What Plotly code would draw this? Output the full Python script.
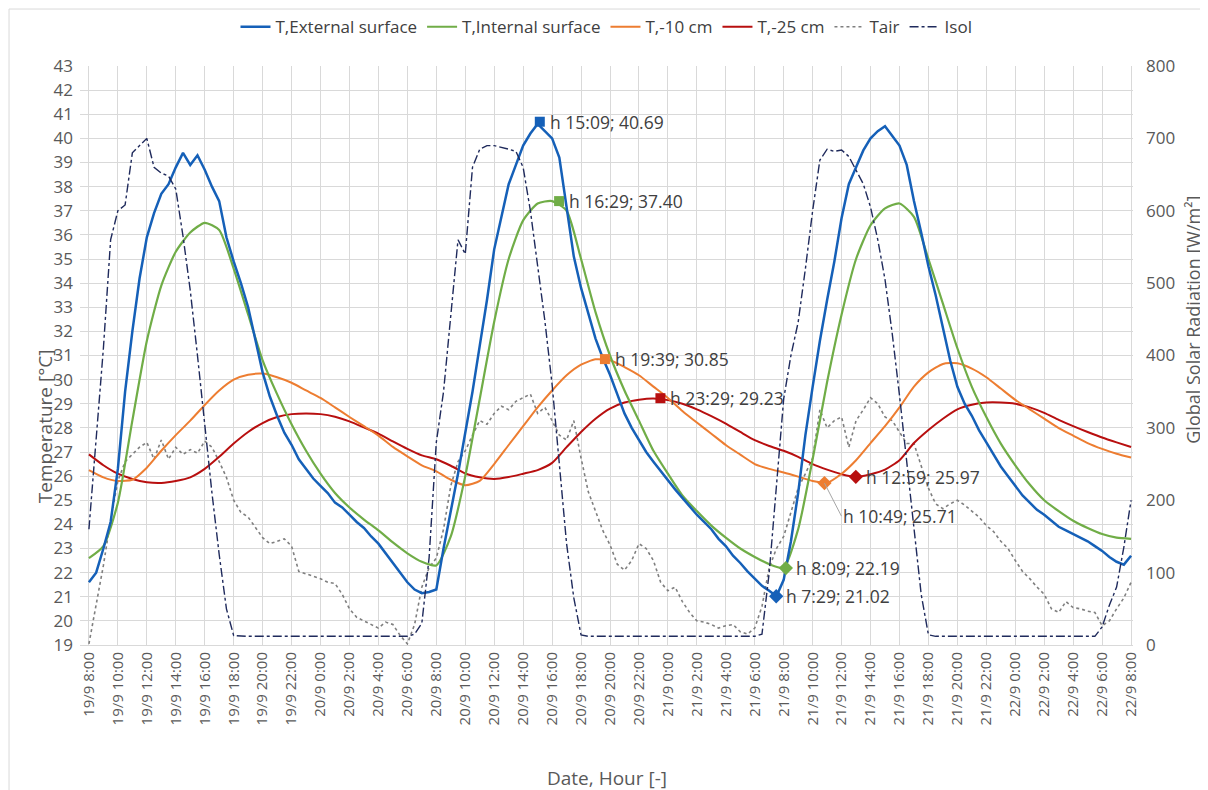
import pandas as pd
import plotly.graph_objects as go

# ---------------- data ----------------
start = "2019-09-19 08:00"
t_half = pd.date_range(start, periods=145, freq="30min")   # 19/9 8:00 .. 22/9 8:00
t_hour = pd.date_range(start, periods=73, freq="60min")

t_external = [
    21.6, 22.0, 23.0, 24.1, 26.3, 29.5, 32.0, 34.2, 35.9, 36.9, 37.7, 38.1,
    38.8, 39.4, 38.9, 39.3, 38.7, 38.0, 37.4, 35.9, 34.9, 34.0, 33.0, 31.6,
    30.3, 29.3, 28.5, 27.8, 27.3, 26.7, 26.3, 25.9, 25.6, 25.3, 24.9, 24.7,
    24.4, 24.1, 23.85, 23.5, 23.2, 22.8, 22.4, 22.0, 21.6, 21.3, 21.15, 21.2,
    21.3, 23.0, 24.5, 26.1, 27.8, 29.5, 31.4, 33.3, 35.4, 36.7, 38.1, 38.9,
    39.7, 40.2, 40.6, 40.3, 40.0, 39.2, 37.1, 35.1, 33.8, 32.7, 31.7, 30.9,
    30.2, 29.4, 28.6, 28.0, 27.5, 27.0, 26.6, 26.2, 25.8, 25.45, 25.1, 24.75,
    24.4, 24.1, 23.8, 23.4, 23.1, 22.7, 22.4, 22.05, 21.75, 21.45, 21.25, 21.02,
    21.7, 23.3, 25.3, 27.7, 29.7, 31.6, 33.3, 34.9, 36.7, 38.1, 38.8, 39.5,
    40.0, 40.3, 40.5, 40.1, 39.7, 38.9, 37.4, 36.1, 34.7, 33.5, 32.1, 30.8,
    29.7, 29.0, 28.5, 27.9, 27.4, 26.9, 26.4, 26.0, 25.6, 25.2, 24.9, 24.6,
    24.4, 24.15, 23.9, 23.75, 23.6, 23.45, 23.3, 23.1, 22.9, 22.65, 22.45, 22.33,
    22.7,
]

t_internal = [
    22.6, 23.1, 24.9, 28.3, 31.6, 33.9, 35.3, 36.1, 36.5, 36.2, 34.6, 32.7,
    30.8, 29.4, 28.15, 27.05, 26.1, 25.3, 24.7, 24.2, 23.75, 23.25, 22.8, 22.45,
    22.3, 23.5, 26.0, 29.2, 32.4, 35.0, 36.6, 37.3, 37.4, 37.0, 35.0, 32.8,
    31.0, 29.55, 28.3, 27.05, 26.1, 25.2, 24.55, 23.95, 23.45, 23.0, 22.65, 22.35,
    22.2, 23.8, 26.7, 29.9, 32.7, 35.0, 36.4, 37.1, 37.3, 36.75, 35.0, 33.15,
    31.3, 29.7, 28.45, 27.35, 26.45, 25.65, 25.0, 24.55, 24.15, 23.85, 23.6, 23.45,
    23.4,
]

t_minus10 = [
    26.25, 25.95, 25.8, 25.85, 26.35, 27.05, 27.7, 28.3, 28.95, 29.55, 30.0, 30.2,
    30.25, 30.1, 29.87, 29.55, 29.24, 28.85, 28.45, 28.07, 27.68, 27.21, 26.82, 26.45,
    26.2, 25.85, 25.62, 25.8, 26.5, 27.29, 28.07, 28.85, 29.55, 30.18, 30.62, 30.84,
    30.8, 30.52, 30.18, 29.71, 29.24, 28.7, 28.22, 27.76, 27.29, 26.89, 26.5, 26.3,
    26.15, 25.98, 25.8, 25.73, 26.1, 26.66, 27.37, 28.07, 28.85, 29.71, 30.3, 30.65,
    30.68, 30.46, 30.1, 29.63, 29.16, 28.77, 28.38, 27.99, 27.68, 27.37, 27.13, 26.93,
    26.77,
]

t_minus25 = [
    26.9, 26.45, 26.1, 25.88, 25.75, 25.72, 25.8, 25.95, 26.3, 26.8, 27.35, 27.83,
    28.2, 28.45, 28.57, 28.6, 28.57, 28.46, 28.27, 28.02, 27.76, 27.44, 27.13, 26.86,
    26.7, 26.43, 26.11, 25.95, 25.88, 25.96, 26.1, 26.25, 26.55, 27.2, 27.83, 28.38,
    28.8, 29.05, 29.17, 29.22, 29.15, 29.0, 28.77, 28.49, 28.18, 27.83, 27.49, 27.25,
    27.05, 26.8, 26.5, 26.27, 26.08, 25.97, 26.08, 26.27, 26.66, 27.37, 27.91, 28.38,
    28.77, 28.96, 29.05, 29.05, 29.0, 28.85, 28.62, 28.33, 28.07, 27.83, 27.6, 27.4,
    27.21,
]

t_air = [
    19.05, 20.6, 22.3, 24.2, 25.8, 26.6, 26.9, 27.2, 27.4, 26.7, 27.5, 26.7,
    27.2, 26.9, 27.1, 26.95, 27.45, 27.2, 26.6, 25.95, 25.0, 24.5, 24.3, 23.9,
    23.45, 23.2, 23.3, 23.4, 23.1, 22.05, 21.95, 21.85, 21.75, 21.6, 21.55, 21.1,
    20.5, 20.15, 20.0, 19.85, 19.7, 19.95, 19.85, 19.4, 19.05, 19.85, 21.4, 22.2,
    22.6, 23.8, 25.6, 26.6, 27.05, 27.7, 28.3, 28.15, 28.6, 28.9, 28.75, 29.1,
    29.25, 29.4, 28.6, 28.85, 28.3, 27.7, 27.5, 28.3, 26.75, 25.35, 24.55, 23.75,
    23.15, 22.35, 22.1, 22.5, 23.2, 23.0, 22.5, 21.6, 21.25, 21.4, 20.8, 20.35,
    20.0, 19.95, 19.85, 19.7, 19.8, 19.85, 19.55, 19.45, 19.7, 20.6, 22.2, 23.0,
    23.5, 24.5, 25.5, 26.1, 26.75, 28.75, 28.0, 28.3, 28.45, 27.2, 28.3, 28.75,
    29.25, 29.0, 28.45, 28.3, 27.85, 27.35, 27.35, 26.45, 25.5, 24.85, 24.65, 24.85,
    25.0, 24.8, 24.55, 24.3, 23.95, 23.7, 23.3, 23.0, 22.5, 22.05, 21.75, 21.4,
    21.1, 20.5, 20.35, 20.8, 20.55, 20.5, 20.4, 20.35, 19.8, 20.0, 20.5, 20.95,
    21.6,
]

isol = [
    160, 280, 410, 560, 600, 608, 680, 690, 700, 660, 652, 648,
    630, 565, 490, 400, 300, 210, 125, 50, 13, 12, 12, 12,
    12, 12, 12, 12, 12, 12, 12, 12, 12, 12, 12, 12,
    12, 12, 12, 12, 12, 12, 12, 12, 12, 15, 30, 120,
    280, 350, 460, 560, 540, 660, 685, 690, 690, 688, 685, 682,
    660, 600, 525, 448, 360, 250, 140, 65, 14, 12, 12, 12,
    12, 12, 12, 12, 12, 12, 12, 12, 12, 12, 12, 12,
    12, 12, 12, 12, 12, 12, 12, 12, 12, 15, 100, 220,
    340, 400, 446, 520, 600, 670, 685, 682, 684, 675, 655, 637,
    605, 560, 505, 430, 345, 255, 160, 70, 14, 12, 12, 12,
    12, 12, 12, 12, 12, 12, 12, 12, 12, 12, 12, 12,
    12, 12, 12, 12, 12, 12, 12, 12, 25, 55, 80, 135,
    200,
]

tick_labels = [
    "19/9 8:00", "19/9 10:00", "19/9 12:00", "19/9 14:00", "19/9 16:00", "19/9 18:00",
    "19/9 20:00", "19/9 22:00", "20/9 0:00", "20/9 2:00", "20/9 4:00", "20/9 6:00",
    "20/9 8:00", "20/9 10:00", "20/9 12:00", "20/9 14:00", "20/9 16:00", "20/9 18:00",
    "20/9 20:00", "20/9 22:00", "21/9 0:00", "21/9 2:00", "21/9 4:00", "21/9 6:00",
    "21/9 8:00", "21/9 10:00", "21/9 12:00", "21/9 14:00", "21/9 16:00", "21/9 18:00",
    "21/9 20:00", "21/9 22:00", "22/9 0:00", "22/9 2:00", "22/9 4:00", "22/9 6:00",
    "22/9 8:00",
]
tick_vals = pd.date_range(start, periods=37, freq="2h")

# highlighted extremes
mark_times = ["2019-09-20 15:09", "2019-09-20 16:29", "2019-09-20 19:39", "2019-09-20 23:29",
              "2019-09-21 07:29", "2019-09-21 08:09", "2019-09-21 10:49", "2019-09-21 12:59"]
mark_values = [40.69, 37.40, 30.85, 29.23, 21.02, 22.19, 25.71, 25.97]
mark_labels = ["h 15:09; 40.69", "h 16:29; 37.40", "h 19:39; 30.85", "h 23:29; 29.23",
               "h 7:29; 21.02", "h 8:09; 22.19", "h 10:49; 25.71", "h 12:59; 25.97"]

# ---------------- styles ----------------
C_BLUE = "#1560B8"
C_GREEN = "#70AD47"
C_ORANGE = "#ED7D31"
C_RED = "#B80F0F"
C_AIR = "#7F7F7F"
C_ISOL = "#1F2A5C"
mark_colors = [C_BLUE, C_GREEN, C_ORANGE, C_RED, C_BLUE, C_GREEN, C_ORANGE, C_RED]
mark_symbols = ["square"] * 4 + ["diamond"] * 4

FONT = "Open Sans"
TXT = "#404040"
AX = "#595959"

fig = go.Figure()
fig.add_trace(go.Scatter(x=t_half, y=isol, name="Isol", yaxis="y2", mode="lines",
                         line=dict(color=C_ISOL, width=1.4, dash="dashdot")))
fig.add_trace(go.Scatter(x=t_half, y=t_air, name="Tair", mode="lines",
                         line=dict(color=C_AIR, width=1.6, dash="dot")))
fig.add_trace(go.Scatter(x=t_hour, y=t_minus25, name="T,-25 cm", mode="lines",
                         line=dict(color=C_RED, width=2, shape="spline", smoothing=0.6)))
fig.add_trace(go.Scatter(x=t_hour, y=t_minus10, name="T,-10 cm", mode="lines",
                         line=dict(color=C_ORANGE, width=2, shape="spline", smoothing=0.6)))
fig.add_trace(go.Scatter(x=t_hour, y=t_internal, name="T,Internal surface", mode="lines",
                         line=dict(color=C_GREEN, width=2.2, shape="spline", smoothing=0.6)))
fig.add_trace(go.Scatter(x=t_half, y=t_external, name="T,External surface", mode="lines",
                         line=dict(color=C_BLUE, width=2.5)))

for tm, v, c, s in zip(mark_times, mark_values, mark_colors, mark_symbols):
    fig.add_trace(go.Scatter(x=[tm], y=[v], mode="markers", showlegend=False,
                             marker=dict(color=c, symbol=s, size=10 if s == "square" else 11)))

for tm, v, lab in zip(mark_times, mark_values, mark_labels):
    if lab.startswith("h 10:49"):
        fig.add_annotation(x=tm, y=v, text=lab, showarrow=True, arrowhead=0, arrowwidth=1,
                           arrowcolor="#A6A6A6", ax=17, ay=33, xanchor="left", yanchor="middle",
                           font=dict(family=FONT, size=17.5, color=TXT))
    else:
        fig.add_annotation(x=tm, y=v, text=lab, showarrow=False, xanchor="left", yanchor="middle",
                           xshift=8, font=dict(family=FONT, size=17.5, color=TXT))

# axis titles
fig.add_annotation(xref="paper", yref="paper", x=0.5, y=-0.229, text="Date, Hour [-]",
                   showarrow=False, xanchor="center", yanchor="middle",
                   font=dict(family=FONT, size=19, color=AX))
fig.add_annotation(xref="paper", yref="paper", x=-0.0332, y=0.378, text="Temperature [°C]",
                   showarrow=False, textangle=-90, xanchor="center", yanchor="middle",
                   font=dict(family=FONT, size=19, color=AX))
fig.add_annotation(xref="paper", yref="paper", x=1.0575, y=0.561,
                   text="Global Solar Radiation [W/m²]",
                   showarrow=False, textangle=-90, xanchor="center", yanchor="middle",
                   font=dict(family=FONT, size=18, color=AX))

# outer chart border
fig.add_shape(type="rect", xref="paper", yref="paper", x0=-0.0674, x1=1.2, y0=-0.5, y1=1.0984,
              line=dict(color="#D9D9D9", width=1), layer="below")

fig.update_layout(
    width=1200, height=782,
    margin=dict(l=72, r=75, t=58, b=145, autoexpand=False),
    paper_bgcolor="white", plot_bgcolor="white",
    font=dict(family=FONT, color=AX),
    legend=dict(orientation="h", x=0.5, xanchor="center", y=1.067, yanchor="middle",
                font=dict(family=FONT, size=17, color=TXT), itemwidth=30,
                traceorder="reversed", bgcolor="rgba(0,0,0,0)"),
    xaxis=dict(type="date", range=["2019-09-19 07:23", "2019-09-22 08:08"],
               tickvals=tick_vals, ticktext=tick_labels, tickangle=-90,
               tickfont=dict(family=FONT, size=15, color=AX),
               showgrid=True, gridcolor="#D9D9D9", gridwidth=1,
               showline=True, linecolor="#D9D9D9", zeroline=False, ticks="",
               automargin=False),
    yaxis=dict(range=[19, 43], dtick=1, tick0=19,
               tickfont=dict(family=FONT, size=17, color=AX),
               showgrid=True, gridcolor="#D9D9D9", gridwidth=1, zeroline=False,
               ticks="", ticklabelstandoff=6, automargin=False),
    yaxis2=dict(range=[0, 800], dtick=100, overlaying="y", side="right",
                tickfont=dict(family=FONT, size=17, color=AX),
                showgrid=False, zeroline=False, ticks="", ticklabelstandoff=12,
                automargin=False),
)

fig.write_html("out.html")
